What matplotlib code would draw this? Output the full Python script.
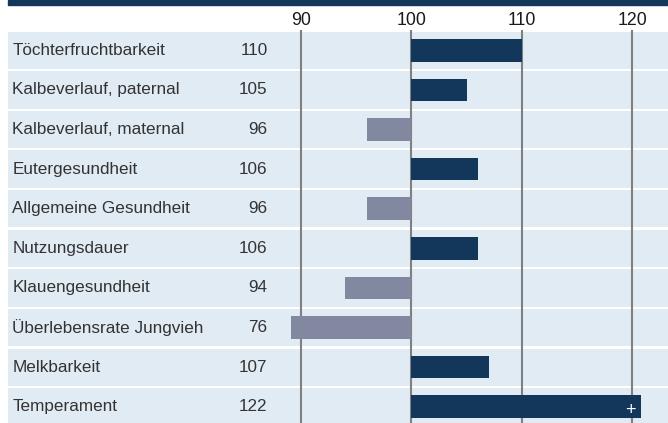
import numpy as np
import matplotlib
matplotlib.use('Agg')
from matplotlib import pyplot as plt
from matplotlib.patches import Rectangle

plt.rcParams['font.family'] = ['Liberation Sans', 'DejaVu Sans']

traits = ['Töchterfruchtbarkeit', 'Kalbeverlauf, paternal', 'Kalbeverlauf, maternal',
          'Eutergesundheit', 'Allgemeine Gesundheit', 'Nutzungsdauer',
          'Klauengesundheit', 'Überlebensrate Jungvieh', 'Melkbarkeit', 'Temperament']
values = [110, 105, 96, 106, 96, 106, 94, 76, 107, 122]
ticks = [90, 100, 110, 120]

navy = '#13365b'
grey_bar = '#8288a0'
bg = '#e1ebf3'
lo, hi = 89.1, 120.8   # visible bar range, bars beyond are cut off

W, H = 668, 423
fig = plt.figure(figsize=(W / 100, H / 100), dpi=100)
fig.patches.append(Rectangle((8 / W, 1 - 5 / H), 1, 5 / H, transform=fig.transFigure,
                             color=navy, zorder=0))

top = 31.7
ax = fig.add_axes([8 / W, 0, 1 - 8 / W, 1 - top / H])
ax.set_xlim(63.45, 123.24)
ax.set_ylim((H - top) / 39.6, 0)
for s in ax.spines.values():
    s.set_visible(False)
ax.set_yticks([])

n = len(traits)
rows = np.arange(n)
for r in rows:
    ax.axhspan(r, r + 0.94, color=bg, lw=0, zorder=0)

ax.vlines(ticks, -0.04, n, color='#808080', lw=1.5, zorder=1.5, clip_on=False)

vals = np.array(values, dtype=float)
shown = np.clip(vals, lo, hi)
colors = [navy if v >= 100 else grey_bar for v in vals]
ax.barh(rows + 0.47, shown - 100, left=100, height=0.57, color=colors, zorder=2)

fs = 12.3
for r, name, v in zip(rows, traits, values):
    ax.text(63.85, r + 0.47, name, ha='left', va='center', fontsize=fs, color='#333333')
    ax.text(86.97, r + 0.47, str(v), ha='right', va='center', fontsize=fs, color='#333333')
    if v > hi:
        ax.text(hi - 1.0, r + 0.56, '+', ha='center', va='center', fontsize=13,
                color='white', zorder=3)

ax.set_xticks(ticks)
ax.tick_params(top=True, labeltop=True, bottom=False, labelbottom=False,
               length=0, pad=2, labelsize=12.8, labelcolor='#1a1a1a')

fig.savefig('out.png', dpi=100)
